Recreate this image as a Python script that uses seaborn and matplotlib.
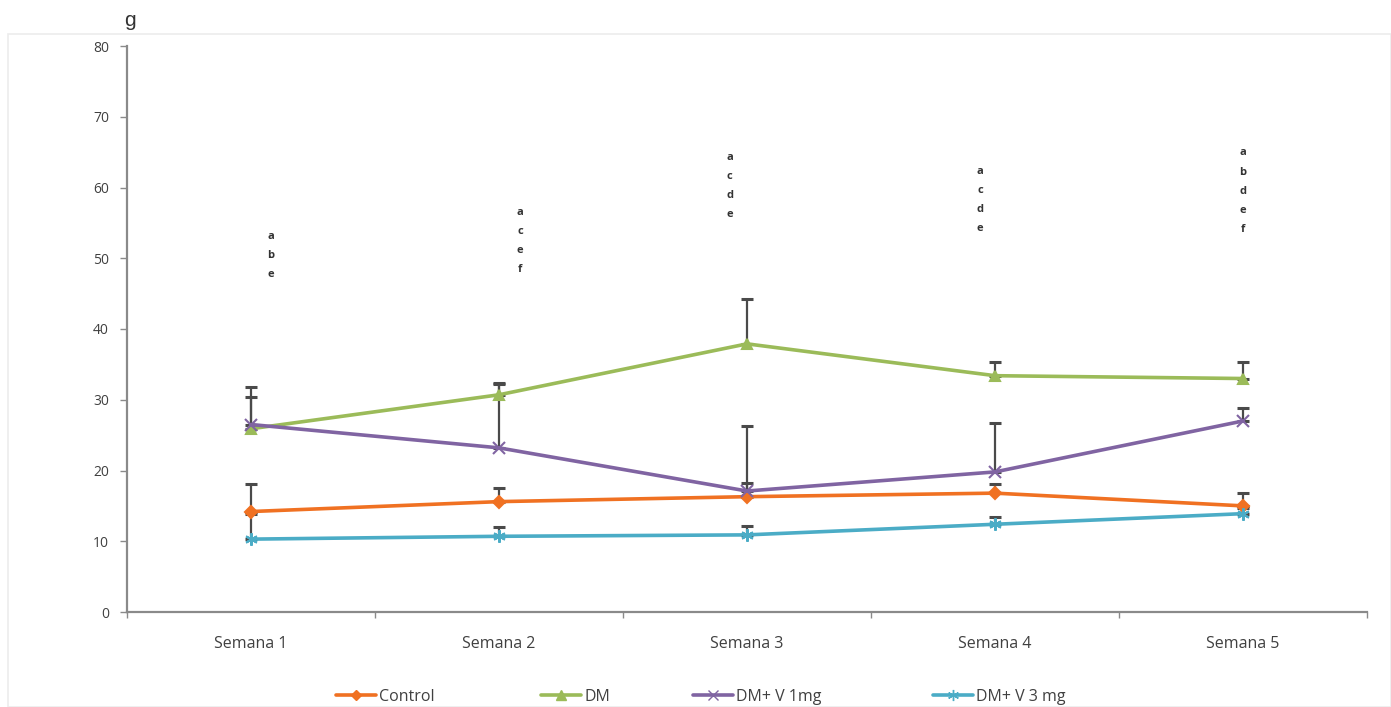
import numpy as np
import pandas as pd
import matplotlib
matplotlib.use("Agg")
import matplotlib.pyplot as plt
from matplotlib.lines import Line2D
from matplotlib.patches import Rectangle
import seaborn as sns

# Weekly body-weight data (g), mean and upper error per group
weeks = ["Semana 1", "Semana 2", "Semana 3", "Semana 4", "Semana 5"]
groups = ["Control", "DM", "DM+ V 1mg", "DM+ V 3 mg"]

control = [14.2, 15.6, 16.3, 16.8, 15.0]
control_err = [3.9, 1.9, 1.9, 1.3, 1.8]
dm = [25.9, 30.7, 37.9, 33.4, 33.0]
dm_err = [4.5, 1.6, 6.4, 2.0, 2.4]
dm_v1 = [26.5, 23.2, 17.1, 19.8, 27.0]
dm_v1_err = [5.3, 9.0, 9.2, 6.9, 1.8]
dm_v3 = [10.3, 10.7, 10.9, 12.4, 13.9]
dm_v3_err = [3.5, 1.3, 1.2, 1.0, 0.8]

# Significance letters above each week and their heights (g)
sig_letters = [["a", "b", "e"],
               ["a", "c", "e", "f"],
               ["a", "c", "d", "e"],
               ["a", "c", "d", "e"],
               ["a", "b", "d", "e", "f"]]
sig_top = [53.1, 56.5, 64.3, 62.3, 64.9]

means = [control, dm, dm_v1, dm_v3]
errs = [control_err, dm_err, dm_v1_err, dm_v3_err]

colors = ["#F07122", "#9BBB59", "#8064A2", "#4BACC6"]
markers = ["D", "^", "x", (6, 2, 0)]
msizes = [6, 7.5, 8, 9]

df = pd.DataFrame({
    "week": np.tile(np.arange(len(weeks)), len(groups)),
    "value": np.concatenate(means),
    "group": np.repeat(groups, len(weeks)),
})

sns.set_theme(style="white")
plt.rcParams["font.family"] = ["Open Sans", "DejaVu Sans"]

fig = plt.figure(figsize=(13.91, 7.07), dpi=100)
ax = fig.add_axes([127 / 1391, 95 / 707, 1240 / 1391, 566 / 707])

# Faint chart-area border
fig.patches.append(Rectangle((8 / 1391, 0), 1 - 8 / 1391, 1 - 34 / 707,
                             transform=fig.transFigure, fill=False,
                             edgecolor="#ececec", linewidth=1.2, zorder=0))

# Upper error bars
for vals, e in zip(means, errs):
    ax.errorbar(np.arange(len(weeks)), vals, yerr=[np.zeros(len(e)), e],
                fmt="none", ecolor="#4a4a4a", elinewidth=1.6, capsize=4,
                capthick=2.2, zorder=2)

sns.lineplot(data=df, x="week", y="value", hue="group", hue_order=groups,
             palette=colors, ax=ax, legend=False, linewidth=2.6, zorder=3)

for i, line in enumerate(ax.lines[-len(groups):]):
    line.set_marker(markers[i])
    line.set_markersize(msizes[i])
    line.set_markerfacecolor(colors[i])
    line.set_markeredgecolor(colors[i])
    line.set_markeredgewidth(1.5)

# Significance letters
letter_dx = [0.08, 0.085, -0.07, -0.06, 0.0]
for i, (lets, top) in enumerate(zip(sig_letters, sig_top)):
    for j, let in enumerate(lets):
        ax.text(i + letter_dx[i], top - j * 2.72, let, ha="center", va="center",
                fontsize=8, color="#333333", fontweight="bold")

ax.set_xlim(-0.5, len(weeks) - 0.5)
ax.set_ylim(0, 80)
ax.set_yticks(np.arange(0, 81, 10))
ax.set_xticks(np.arange(len(weeks)))
ax.set_xticklabels(weeks)
ax.set_xticks(np.arange(-0.5, len(weeks)), minor=True)
ax.tick_params(axis="x", which="major", length=0, pad=17, labelsize=11.5,
               labelcolor="#404040")
ax.tick_params(axis="x", which="minor", length=4, width=1, color="#8a8a8a",
               direction="out", bottom=True)
ax.tick_params(axis="y", length=5, width=1, color="#8a8a8a", direction="out",
               left=True, labelsize=10, labelcolor="#404040", pad=8)
ax.set_xlabel("")
ax.set_ylabel("")
for s in ["top", "right"]:
    ax.spines[s].set_visible(False)
for s in ["left", "bottom"]:
    ax.spines[s].set_color("#8a8a8a")
    ax.spines[s].set_linewidth(1.6)
ax.grid(False)

fig.text(130 / 1391, 1 - 20 / 707, "g", ha="center", va="center",
         fontsize=15, color="#333333", family=["Liberation Sans", "DejaVu Sans"])

# Legend entries along the bottom
legend_x = [333, 538, 690, 930]
for i, g in enumerate(groups):
    h = Line2D([], [], color=colors[i], marker=markers[i], markersize=msizes[i] - 1,
               markerfacecolor=colors[i], markeredgecolor=colors[i], linewidth=2.6)
    fig.legend(handles=[h], labels=[g], loc="center left",
               bbox_to_anchor=(legend_x[i] / 1391 - 0.008, 10 / 707),
               frameon=False, fontsize=11.5, handlelength=2.5, handletextpad=0.2,
               labelcolor="#404040")

fig.savefig("out.png", dpi=100)
